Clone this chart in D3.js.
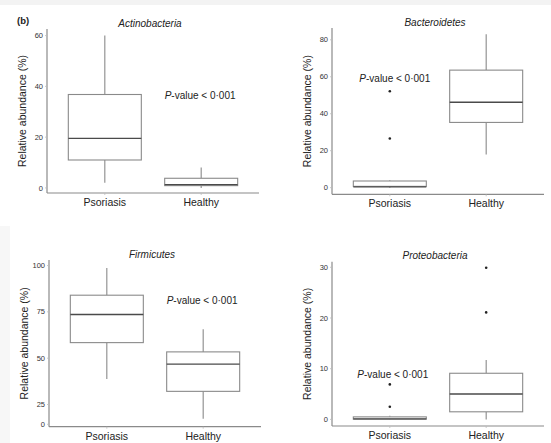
<!DOCTYPE html>
<html><head><meta charset="utf-8">
<script src="https://cdn.jsdelivr.net/npm/d3@7/dist/d3.min.js"></script>
<style>body{margin:0;background:#fff}svg{display:block;font-family:"Liberation Sans",Arial,sans-serif}</style>
</head><body><svg id="c" width="551" height="443"></svg>
<script>
// ---- data ----
const categories = ["Psoriasis", "Healthy"];
const phyla = ["Actinobacteria", "Bacteroidetes", "Firmicutes", "Proteobacteria"];
// box stats per phylum: [lowerWhisker, q1, median, q3, upperWhisker] for Psoriasis, Healthy
const actinoStats = [[2, 11, 19.5, 36.8, 60], [0, 0.9, 1.3, 3.8, 8]];
const bacteroStats = [[0, 0.7, 0.4, 3.6, 4], [18, 35.3, 46.2, 63.6, 83]];
const firmiStats = [[38.7, 58.4, 73.6, 84, 98.7], [7, 32.1, 46.8, 53.4, 65.6]];
const proteoStats = [[0, 0.05, 0.1, 0.5, 0.7], [0, 1.5, 5.0, 9.1, 11.7]];
const actinoOut = [[], []];
const bacteroOut = [[52.2, 26.6], []];
const firmiOut = [[], []];
const proteoOut = [[6.9, 2.5], [29.9, 21.1]];
// y tick labels
const actinoTicks = [0, 20, 40, 60];
const bacteroTicks = [0, 20, 40, 60, 80];
const firmiTicks = [0, 25, 50, 75, 100];
const proteoTicks = [0, 10, 20, 30];
// axis limits (Firmicutes axis is non-linear near 0, as in the original)
const actinoDomain = [-2, 62.6];
const bacteroDomain = [-3.6, 86.4];
const firmiDomain = [-3, 25, 103];
const proteoDomain = [-1.3, 31.1];
const pvalText = "value < 0·001";
const pvalCat = ["Healthy", "Psoriasis", "Healthy", "Psoriasis"];
const pvalY = [35, 57.3, 79.4, 8.2];

const panels = [
  {name: phyla[0], stats: actinoStats, out: actinoOut, ticks: actinoTicks, dom: actinoDomain, left: 47, top: 29, bottom: 193, pdx: 0},
  {name: phyla[1], stats: bacteroStats, out: bacteroOut, ticks: bacteroTicks, dom: bacteroDomain, left: 332, top: 28, bottom: 194.3, pdx: 6},
  {name: phyla[2], stats: firmiStats, out: firmiOut, ticks: firmiTicks, dom: firmiDomain, left: 49, top: 260, bottom: 426.7, pdx: 0},
  {name: phyla[3], stats: proteoStats, out: proteoOut, ticks: proteoTicks, dom: proteoDomain, left: 332, top: 261.7, bottom: 426, pdx: 4}
];

const svg = d3.select("#c");
// faint page edges as in the reference scan
svg.append("rect").attr("x",0).attr("y",0).attr("width",551).attr("height",5).attr("fill","#f3f3f3");
svg.append("rect").attr("x",0).attr("y",226).attr("width",10).attr("height",217).attr("fill","#f7f7f7");

svg.append("text").attr("x",17).attr("y",24).attr("font-size",9.5).attr("font-weight","bold").attr("fill","#222").text("(b)");

const plotW = 212, boxW = 73;
const axisCol = "#8a8a8a", boxCol = "#8a8a8a", medCol = "#4a4a4a";

panels.forEach((p, pi) => {
  const g = svg.append("g");
  const x = d3.scalePoint().domain(categories).range([p.left, p.left + plotW]).padding(0.6);
  let range;
  if (p.dom.length === 3) {
    const full = p.bottom - p.top;
    // piecewise: lower part compressed
    range = [p.bottom, p.bottom - 22.2, p.top];
  } else range = [p.bottom, p.top];
  const y = d3.scaleLinear().domain(p.dom).range(range);

  // axes lines
  g.append("line").attr("x1", p.left).attr("x2", p.left).attr("y1", p.top).attr("y2", p.bottom).attr("stroke", axisCol).attr("stroke-width", 1.2);
  g.append("line").attr("x1", p.left).attr("x2", p.left + plotW).attr("y1", p.bottom).attr("y2", p.bottom).attr("stroke", axisCol).attr("stroke-width", 1.2);

  // y ticks
  p.ticks.forEach(t => {
    g.append("line").attr("x1", p.left - 2).attr("x2", p.left).attr("y1", y(t)).attr("y2", y(t)).attr("stroke", "#bbb").attr("stroke-width", 0.8);
    g.append("text").attr("x", p.left - 4).attr("y", y(t)).attr("dy", "0.35em").attr("text-anchor", "end")
      .attr("font-size", 7.5).attr("fill", "#333").text(t);
  });
  // x tick marks & labels
  categories.forEach(c => {
    g.append("line").attr("x1", x(c)).attr("x2", x(c)).attr("y1", p.bottom).attr("y2", p.bottom + 2).attr("stroke", "#bbb").attr("stroke-width", 0.8);
    g.append("text").attr("x", x(c)).attr("y", p.bottom + 13).attr("text-anchor", "middle")
      .attr("font-size", 10.5).attr("fill", "#222").text(c);
  });

  // boxes
  categories.forEach((c, ci) => {
    const [lo, q1, med, q3, hi] = p.stats[ci];
    const cx = x(c);
    g.append("line").attr("x1", cx).attr("x2", cx).attr("y1", y(hi)).attr("y2", y(q3)).attr("stroke", boxCol).attr("stroke-width", 1.1);
    g.append("line").attr("x1", cx).attr("x2", cx).attr("y1", y(q1)).attr("y2", y(lo)).attr("stroke", boxCol).attr("stroke-width", 1.1);
    g.append("rect").attr("x", cx - boxW / 2).attr("width", boxW).attr("y", y(q3)).attr("height", Math.max(1, y(q1) - y(q3)))
      .attr("fill", "#fff").attr("stroke", boxCol).attr("stroke-width", 1.1);
    g.append("line").attr("x1", cx - boxW / 2).attr("x2", cx + boxW / 2).attr("y1", y(med)).attr("y2", y(med)).attr("stroke", medCol).attr("stroke-width", 1.4);
    p.out[ci].forEach(v => {
      g.append("circle").attr("cx", cx).attr("cy", y(v)).attr("r", 1.3).attr("fill", "#222");
    });
  });

  // title
  g.append("text").attr("x", p.left + plotW / 2 - 3).attr("y", p.top - 2.5).attr("text-anchor", "middle")
    .attr("font-size", 10).attr("font-style", "italic").attr("fill", "#222").text(p.name);

  // y label
  const cy = (p.top + p.bottom) / 2;
  g.append("text").attr("transform", `translate(${p.left - 25},${cy}) rotate(-90)`).attr("text-anchor", "middle")
    .attr("dy", "0.35em").attr("font-size", 10.5).attr("fill", "#222").text("Relative abundance (%)");

  // p-value annotation
  const t = g.append("text").attr("x", x(pvalCat[pi]) - boxW / 2 + p.pdx).attr("y", y(pvalY[pi]))
    .attr("font-size", 10).attr("fill", "#222");
  t.append("tspan").attr("font-style", "italic").text("P");
  t.append("tspan").text("-" + pvalText);
});
</script></body></html>
